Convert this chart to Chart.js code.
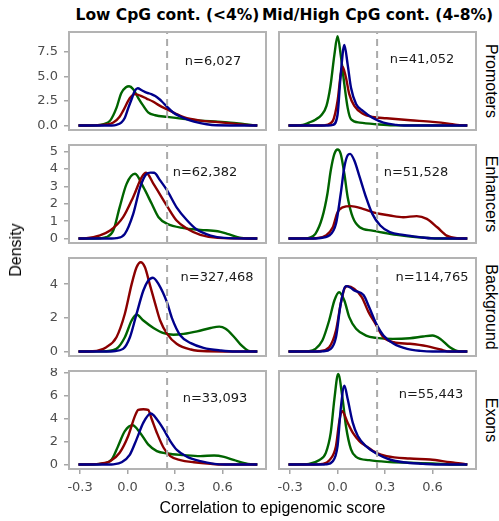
<!DOCTYPE html>
<html>
<head>
<meta charset="utf-8">
<script src="https://cdn.jsdelivr.net/npm/chart.js@4.4.0/dist/chart.umd.min.js"></script>
<style>
  body { margin: 0; background: #fff; }
  #wrap { position: relative; width: 499px; height: 521px; overflow: hidden; background: #fff; }
  canvas { position: absolute; }
  .lbl { position: absolute; white-space: nowrap; transform-origin: center; color: #000; }
</style>
</head>
<body>
<div id="wrap"></div>
<script>
const colTitles = ['Low CpG cont. (<4%)', 'Mid/High CpG cont. (4-8%)'];
const rowNames = ['Promoters', 'Enhancers', 'Background', 'Exons'];
const nLabels = [
  ['n=6,027', 'n=41,052'],
  ['n=62,382', 'n=51,528'],
  ['n=327,468', 'n=114,765'],
  ['n=33,093', 'n=55,443']
];
const xTicks = [-0.3, 0, 0.3, 0.6];
const yTicks = [[0, 2.5, 5, 7.5], [0, 1, 2, 3, 4, 5], [0, 2, 4], [0, 2, 4, 6, 8]];
const xLimits = [-0.37, 0.875];
const yLimits = [[-0.455, 9.53], [-0.257, 5.39], [-0.264, 5.55], [-0.387, 8.13]];
const cutoff = 0.25;

// density curves, [x, density]
const promLowGreen = [[-0.31,0],[-0.2,0.02],[-0.15,0.15],[-0.11,0.5],[-0.07,1.8],[-0.04,3.3],[-0.01,3.9],[0.01,4.0],[0.036,3.7],[0.068,2.8],[0.1,2.0],[0.13,1.35],[0.175,1.05],[0.25,0.88],[0.35,0.68],[0.46,0.5],[0.57,0.4],[0.65,0.3],[0.73,0.15],[0.8,0.02],[0.82,0]];
const promLowRed = [[-0.31,0],[-0.2,0.02],[-0.134,0.1],[-0.09,0.3],[-0.05,0.9],[-0.028,1.5],[0.015,2.8],[0.047,3.2],[0.08,3.05],[0.12,2.75],[0.16,2.45],[0.2,2.05],[0.25,1.65],[0.3,1.25],[0.355,0.85],[0.46,0.5],[0.57,0.35],[0.67,0.2],[0.75,0.06],[0.82,0]];
const promLowBlue = [[-0.31,0],[-0.1,0.01],[-0.07,0.07],[-0.04,0.3],[-0.017,0.8],[0.005,1.8],[0.026,2.7],[0.045,3.5],[0.064,3.8],[0.09,3.6],[0.12,3.35],[0.15,3.2],[0.175,3.0],[0.2,2.7],[0.217,2.45],[0.25,1.9],[0.29,1.3],[0.33,0.95],[0.38,0.6],[0.42,0.4],[0.5,0.13],[0.56,0.03],[0.82,0]];

const promHighGreen = [[-0.31,0],[-0.26,0.01],[-0.22,0.05],[-0.18,0.3],[-0.14,0.6],[-0.1,1.1],[-0.07,2.0],[-0.045,4.0],[-0.02,7.2],[0,9.1],[0.02,7.2],[0.043,4.2],[0.064,1.8],[0.085,0.64],[0.14,0.3],[0.245,0.13],[0.35,0.02],[0.82,0]];
const promHighRed = [[-0.31,0],[-0.1,0.01],[-0.07,0.07],[-0.03,0.47],[0,2.5],[0.02,5.2],[0.032,6.0],[0.053,4.9],[0.074,3.2],[0.106,2.0],[0.16,1.2],[0.22,0.88],[0.31,0.74],[0.46,0.54],[0.6,0.37],[0.7,0.2],[0.755,0.07],[0.82,0]];
const promHighBlue = [[-0.31,0],[-0.06,0.01],[-0.03,0.07],[0,1.1],[0.02,5.2],[0.043,8.2],[0.064,6.2],[0.085,3.85],[0.117,2.2],[0.16,1.5],[0.22,0.8],[0.29,0.3],[0.37,0.07],[0.42,0],[0.82,0]];

const enhLowGreen = [[-0.31,0],[-0.17,0.02],[-0.134,0.08],[-0.09,0.46],[-0.05,1.8],[-0.006,3.15],[0.047,3.73],[0.1,2.96],[0.153,2.0],[0.196,1.23],[0.25,0.85],[0.355,0.6],[0.46,0.5],[0.57,0.42],[0.63,0.27],[0.72,0.04],[0.82,0]];
const enhLowRed = [[-0.31,0],[-0.26,0.02],[-0.18,0.17],[-0.11,0.46],[-0.028,1.23],[0.036,2.4],[0.09,3.54],[0.117,3.79],[0.164,3.15],[0.25,1.87],[0.31,1.04],[0.377,0.56],[0.46,0.21],[0.57,0.04],[0.82,0]];
const enhLowBlue = [[-0.31,0],[-0.1,0],[-0.07,0.02],[-0.017,0.27],[0.036,1.42],[0.08,2.96],[0.12,3.73],[0.145,3.8],[0.168,3.79],[0.206,3.35],[0.25,2.77],[0.31,1.8],[0.377,1.04],[0.44,0.5],[0.525,0.17],[0.61,0.04],[0.82,0]];

const enhHighGreen = [[-0.31,0],[-0.2,0.01],[-0.18,0.04],[-0.14,0.27],[-0.096,1.23],[-0.064,2.58],[-0.043,3.92],[-0.02,4.88],[0,5.13],[0.02,4.88],[0.043,3.73],[0.064,2.38],[0.096,1.23],[0.14,0.65],[0.22,0.46],[0.33,0.27],[0.46,0.12],[0.56,0.04],[0.65,0],[0.82,0]];
const enhHighRed = [[-0.31,0],[-0.18,0],[-0.14,0.02],[-0.074,0.17],[-0.03,0.65],[0,1.52],[0.032,1.8],[0.085,1.87],[0.16,1.71],[0.245,1.46],[0.33,1.33],[0.415,1.23],[0.5,1.29],[0.564,1.13],[0.63,0.65],[0.69,0.17],[0.755,0.02],[0.82,0]];
const enhHighBlue = [[-0.31,0],[-0.15,0],[-0.12,0.02],[-0.053,0.17],[-0.01,0.85],[0.02,2.58],[0.043,4.12],[0.064,4.8],[0.079,4.88],[0.106,4.5],[0.14,3.54],[0.18,2.38],[0.22,1.42],[0.27,0.75],[0.33,0.37],[0.415,0.21],[0.52,0.08],[0.6,0.01],[0.82,0]];

const bgLowGreen = [[-0.31,0],[-0.16,0.01],[-0.134,0.02],[-0.07,0.16],[-0.017,0.85],[0.026,1.84],[0.057,2.2],[0.1,1.84],[0.164,1.4],[0.228,1.09],[0.29,1.0],[0.355,1.05],[0.44,1.2],[0.525,1.4],[0.58,1.48],[0.62,1.35],[0.675,0.85],[0.72,0.36],[0.76,0.06],[0.8,0],[0.82,0]];
const bgLowRed = [[-0.31,0],[-0.22,0.02],[-0.134,0.26],[-0.07,0.85],[-0.017,2.24],[0.026,4.0],[0.057,5.0],[0.083,5.3],[0.11,5.0],[0.14,4.0],[0.175,2.83],[0.206,1.84],[0.25,1.05],[0.31,0.46],[0.4,0.12],[0.5,0.02],[0.82,0]];
const bgLowBlue = [[-0.31,0],[-0.12,0],[-0.09,0.02],[-0.028,0.16],[0.015,0.85],[0.057,2.24],[0.1,3.62],[0.13,4.2],[0.16,4.38],[0.196,4.0],[0.25,2.9],[0.28,2.0],[0.334,0.95],[0.4,0.5],[0.48,0.22],[0.59,0.06],[0.68,0],[0.82,0]];

const bgHighGreen = [[-0.31,0],[-0.2,0.01],[-0.18,0.02],[-0.14,0.16],[-0.096,0.65],[-0.053,1.84],[-0.02,3.03],[0.01,3.52],[0.043,3.03],[0.074,2.04],[0.117,1.35],[0.18,0.95],[0.245,0.81],[0.35,0.75],[0.457,0.79],[0.54,0.89],[0.6,0.95],[0.65,0.75],[0.71,0.26],[0.766,0.02],[0.82,0]];
const bgHighRed = [[-0.31,0],[-0.15,0],[-0.117,0.02],[-0.053,0.26],[-0.01,1.25],[0.02,2.83],[0.043,3.72],[0.064,3.88],[0.106,3.72],[0.153,3.23],[0.196,2.34],[0.24,1.64],[0.29,0.85],[0.355,0.55],[0.457,0.46],[0.564,0.32],[0.65,0.12],[0.71,0],[0.82,0]];
const bgHighBlue = [[-0.31,0],[-0.12,0],[-0.096,0.01],[-0.043,0.16],[-0.01,0.85],[0.02,2.83],[0.053,3.88],[0.08,3.8],[0.106,3.62],[0.164,3.35],[0.2,2.63],[0.245,1.64],[0.29,0.95],[0.355,0.46],[0.44,0.16],[0.525,0.04],[0.6,0],[0.82,0]];

const exLowGreen = [[-0.31,0],[-0.2,0.02],[-0.155,0.09],[-0.1,0.44],[-0.06,1.6],[-0.017,2.9],[0.032,3.41],[0.079,2.77],[0.13,1.75],[0.185,1.17],[0.25,0.96],[0.355,0.82],[0.46,0.73],[0.547,0.79],[0.61,0.67],[0.675,0.38],[0.76,0.06],[0.82,0]];
const exLowRed = [[-0.31,0],[-0.22,0.02],[-0.18,0.06],[-0.11,0.29],[-0.05,1.02],[0.004,2.48],[0.047,4.23],[0.068,4.75],[0.1,4.81],[0.13,4.75],[0.153,3.94],[0.185,2.77],[0.228,1.46],[0.27,0.73],[0.334,0.38],[0.42,0.2],[0.525,0.06],[0.6,0],[0.82,0]];
const exLowBlue = [[-0.31,0],[-0.12,0],[-0.09,0.02],[-0.038,0.2],[0.015,0.87],[0.057,2.19],[0.1,3.64],[0.147,4.43],[0.185,3.94],[0.228,3.06],[0.27,2.04],[0.313,1.25],[0.377,0.67],[0.46,0.29],[0.547,0.06],[0.62,0],[0.82,0]];

const exHighGreen = [[-0.31,0],[-0.22,0.02],[-0.18,0.06],[-0.117,0.38],[-0.074,1.02],[-0.043,2.77],[-0.02,5.69],[0.004,7.87],[0.032,5.69],[0.053,3.35],[0.085,1.31],[0.117,0.67],[0.2,0.38],[0.31,0.23],[0.457,0.15],[0.6,0.09],[0.755,0],[0.82,0]];
const exHighRed = [[-0.31,0],[-0.15,0],[-0.096,0.06],[-0.053,0.35],[-0.01,1.6],[0.01,3.64],[0.028,4.66],[0.064,3.64],[0.096,2.77],[0.138,2.04],[0.18,1.6],[0.245,1.02],[0.31,0.73],[0.457,0.52],[0.585,0.44],[0.713,0.2],[0.8,0.06],[0.82,0]];
const exHighBlue = [[-0.31,0],[-0.1,0],[-0.074,0.02],[-0.03,0.29],[0,1.6],[0.02,4.81],[0.043,6.85],[0.064,5.69],[0.096,3.64],[0.128,2.48],[0.18,1.6],[0.245,0.96],[0.33,0.44],[0.415,0.2],[0.54,0.06],[0.62,0],[0.82,0]];

const series = [
  [[promLowGreen, promLowRed, promLowBlue], [promHighGreen, promHighRed, promHighBlue]],
  [[enhLowGreen, enhLowRed, enhLowBlue], [enhHighGreen, enhHighRed, enhHighBlue]],
  [[bgLowGreen, bgLowRed, bgLowBlue], [bgHighGreen, bgHighRed, bgHighBlue]],
  [[exLowGreen, exLowRed, exLowBlue], [exHighGreen, exHighRed, exHighBlue]]
];
const colors = { green: '#006400', red: '#8b0000', blue: '#00008b' };

// layout (px)
const colLeft = [69, 279];
const rowTop = [32, 145, 258, 371];
const panelW = 197, panelH = 98;
const yAxisW = 49, xAxisH = 32, pad = 3;
const nOffset = [
  [[144, 30], [143, 27.5]],
  [[136, 27.5], [137, 27.5]],
  [[148, 19.5], [153, 19.5]],
  [[146, 28], [152, 24]]
];

const wrap = document.getElementById('wrap');
Chart.defaults.font.family = '"DejaVu Sans", Verdana, sans-serif';

const panelDecor = {
  id: 'panelDecor',
  afterDatasetsDraw(chart, args, opts) {
    const { ctx, chartArea: a } = chart;
    ctx.save();
    ctx.strokeStyle = '#b3b3b3';
    ctx.lineWidth = 2;
    ctx.strokeRect(a.left, a.top, a.right - a.left, a.bottom - a.top);
    ctx.fillStyle = '#1a1a1a';
    ctx.font = '13px "DejaVu Sans", Verdana, sans-serif';
    ctx.textAlign = 'center';
    ctx.textBaseline = 'middle';
    ctx.fillText(opts.label, a.left + opts.dx, a.top + opts.dy);
    ctx.restore();
  }
};
Chart.register(panelDecor);

function line(pts, col) {
  return {
    data: pts.map(([x, y]) => ({ x, y })),
    borderColor: col,
    borderWidth: 2.4,
    pointRadius: 0,
    fill: false,
    cubicInterpolationMode: 'monotone'
  };
}

// keep the panel size fixed: no auto padding for tick labels
function fixSize(s, size) {
  if (s.isHorizontal()) s.height = size; else s.width = size;
  s.paddingTop = s.paddingBottom = s.paddingLeft = s.paddingRight = 0;
}

function makePanel(r, c) {
  const left = c === 0, bottom = r === 3;
  const cv = document.createElement('canvas');
  const w = (left ? yAxisW : pad) + panelW + pad;
  const h = pad + panelH + (bottom ? xAxisH : pad);
  cv.width = w; cv.height = h;
  cv.style.left = (left ? colLeft[c] - yAxisW : colLeft[c] - pad) + 'px';
  cv.style.top = (rowTop[r] - pad) + 'px';
  wrap.appendChild(cv);

  const [ymin, ymax] = yLimits[r];
  const [g, rd, b] = series[r][c];
  const tickFont = { family: '"DejaVu Sans", Verdana, sans-serif', size: 13 };
  const grid = { drawOnChartArea: false, tickLength: 5, color: '#a6a6a6', lineWidth: 1.5 };

  new Chart(cv, {
    type: 'line',
    data: {
      datasets: [
        { data: [{ x: cutoff, y: ymin }, { x: cutoff, y: ymax }], borderColor: '#aaaaaa', borderWidth: 2, borderDash: [7, 5], pointRadius: 0 },
        line(b, colors.blue),
        line(rd, colors.red),
        line(g, colors.green)
      ]
    },
    options: {
      responsive: false,
      animation: false,
      events: [],
      layout: { padding: { left: left ? 0 : pad, right: pad, top: pad, bottom: bottom ? 0 : pad } },
      plugins: {
        legend: { display: false },
        tooltip: { enabled: false },
        panelDecor: { label: nLabels[r][c], dx: nOffset[r][c][0], dy: nOffset[r][c][1] }
      },
      scales: {
        x: {
          type: 'linear', min: xLimits[0], max: xLimits[1], display: bottom,
          afterBuildTicks: s => { s.ticks = xTicks.map(v => ({ value: v })); },
          afterFit: s => fixSize(s, bottom ? xAxisH : 0),
          grid, border: { display: false },
          ticks: { autoSkip: false, maxRotation: 0, padding: 6, color: '#4d4d4d', font: tickFont, callback: v => v.toFixed(1) }
        },
        y: {
          type: 'linear', min: ymin, max: ymax, display: left,
          afterBuildTicks: s => { s.ticks = yTicks[r].map(v => ({ value: v })); },
          afterFit: s => fixSize(s, left ? yAxisW : 0),
          grid, border: { display: false },
          ticks: { autoSkip: false, padding: 6, color: '#4d4d4d', font: tickFont, callback: v => r === 0 ? v.toFixed(1) : String(v) }
        }
      }
    }
  });
}

for (let r = 0; r < 4; r++) for (let c = 0; c < 2; c++) makePanel(r, c);

function addLabel(text, cx, cy, css, rot) {
  const d = document.createElement('div');
  d.className = 'lbl';
  d.textContent = text;
  d.style.cssText += css;
  d.style.left = cx + 'px';
  d.style.top = cy + 'px';
  d.style.transform = 'translate(-50%, -50%)' + (rot ? ` rotate(${rot}deg)` : '');
  wrap.appendChild(d);
}

const titleFont = 'font: bold 15.5px "DejaVu Sans", Verdana, sans-serif;';
const axisFont = 'font: 16px "Liberation Sans", Arial, sans-serif;';
colTitles.forEach((t, c) => addLabel(t, colLeft[c] + panelW / 2, 15, titleFont));
rowNames.forEach((t, r) => addLabel(t, 491, rowTop[r] + panelH / 2, axisFont, 90));
addLabel('Density', 16, 250, axisFont, -90);
addLabel('Correlation to epigenomic score', (colLeft[0] + colLeft[1] + panelW) / 2, 508, axisFont);
</script>
</body>
</html>
